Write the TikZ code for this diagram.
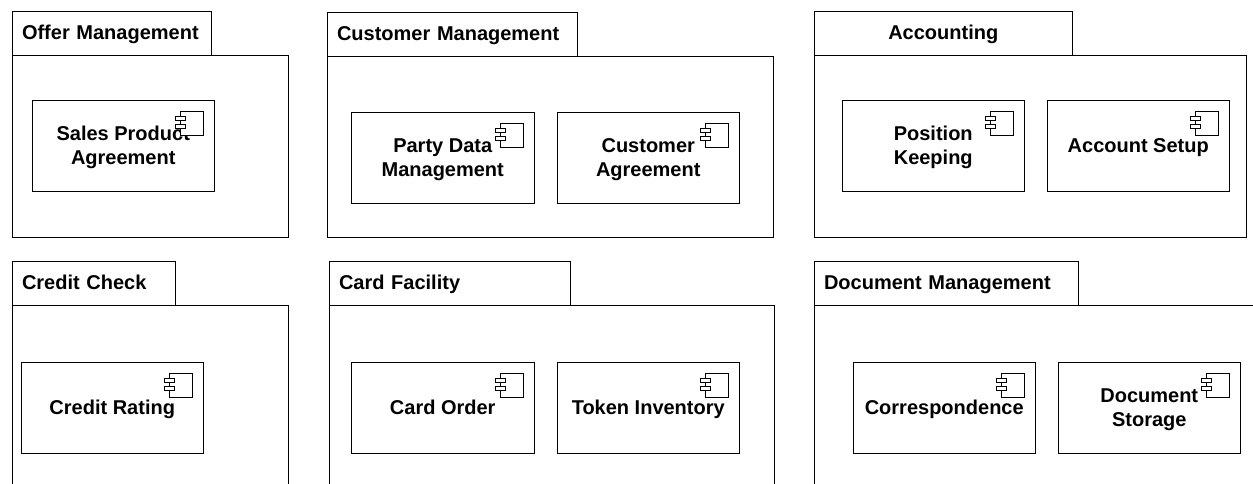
\documentclass[tikz,border=0pt]{standalone}
\usepackage{fontspec}
\setmainfont{Liberation Sans}
\newcommand{\pkgstrut}{\rule[-6pt]{0pt}{24pt}}
\newcommand{\compstrut}{\rule[-5pt]{0pt}{24pt}}
\tikzset{
    pkgfont/.style={font=\fontsize{20}{24}\selectfont\bfseries},
    pkgtab/.style={draw, pkgfont, execute at begin node=\pkgstrut, execute at end node=\pkgstrut, anchor=north west, outer sep=0pt, inner xsep=10pt, inner ysep=0pt, minimum height=44pt, align=left},
    pkgbody/.style={draw, anchor=north west, outer sep=0pt, inner sep=0pt},
    comp/.style={draw, pkgfont, execute at begin node=\compstrut, execute at end node=\compstrut, anchor=north west, outer sep=0pt, inner sep=0pt, minimum width=182.5pt, minimum height=91pt, align=center},
    twoline/.style={text depth=0pt},
    icon/.style={draw, fill=white, line width=0.6pt}
}
\begin{document}
\begin{tikzpicture}[x=1pt, y=-1pt, line width=0.8pt]
            \clip (0, 0) rectangle (1253, 483);

            %packages
            \node[pkgbody, minimum width=276.5pt, minimum height=182pt] (offerbody) at (12, 55) {};
            \node[pkgbody, minimum width=446.5pt, minimum height=181pt] (custbody) at (327, 56) {};
            \node[pkgbody, minimum width=432.5pt, minimum height=182pt] (acctbody) at (814, 55) {};
            \node[pkgbody, minimum width=276.5pt, minimum height=200pt] (creditbody) at (12, 305) {};
            \node[pkgbody, minimum width=445.5pt, minimum height=200pt] (cardbody) at (329, 305) {};
            \node[pkgbody, minimum width=460pt, minimum height=200pt] (docbody) at (814, 305) {};

            %tabs
            \node[pkgtab, text width=179.5pt] (offertab) at (12, 11) {Offer Management};
            \node[pkgtab, text width=230.5pt] (custtab) at (327, 12) {Customer Management};
            \node[pkgtab, text width=238.5pt, align=center] (accttab) at (814, 11) {Accounting};
            \node[pkgtab, text width=143.5pt] (credittab) at (12, 261) {Credit Check};
            \node[pkgtab, text width=221.5pt] (cardtab) at (329, 261) {Card Facility};
            \node[pkgtab, text width=244.5pt] (doctab) at (814, 261) {Document Management};

            %components
            \node[comp, twoline] (sales) at (32, 100) {Sales Product\\Agreement};
            \node[comp, twoline] (party) at (351.5, 112) {Party Data\\Management};
            \node[comp, twoline] (custagr) at (557, 112) {Customer\\Agreement};
            \node[comp, twoline] (position) at (842, 100) {Position\\Keeping};
            \node[comp] (setup) at (1047, 100) {Account Setup};
            \node[comp] (rating) at (21, 362) {Credit Rating};
            \node[comp] (order) at (351.5, 362) {Card Order};
            \node[comp] (token) at (557, 362) {Token Inventory};
            \node[comp] (corresp) at (853, 362) {Correspondence};
            \node[comp, twoline] (storage) at (1058, 362) {Document\\Storage};

            %icons
            \foreach \c in {sales, party, custagr, position, setup, rating, order, token, corresp, storage} {
                \draw[icon] ([shift={(-34, 11.5)}]\c.north east) rectangle ([shift={(-11, 35)}]\c.north east);
                \draw[icon] ([shift={(-39, 16)}]\c.north east) rectangle ([shift={(-29, 20)}]\c.north east);
                \draw[icon] ([shift={(-39, 24.5)}]\c.north east) rectangle ([shift={(-29, 28.5)}]\c.north east);
            }
        \end{tikzpicture}
\end{document}
